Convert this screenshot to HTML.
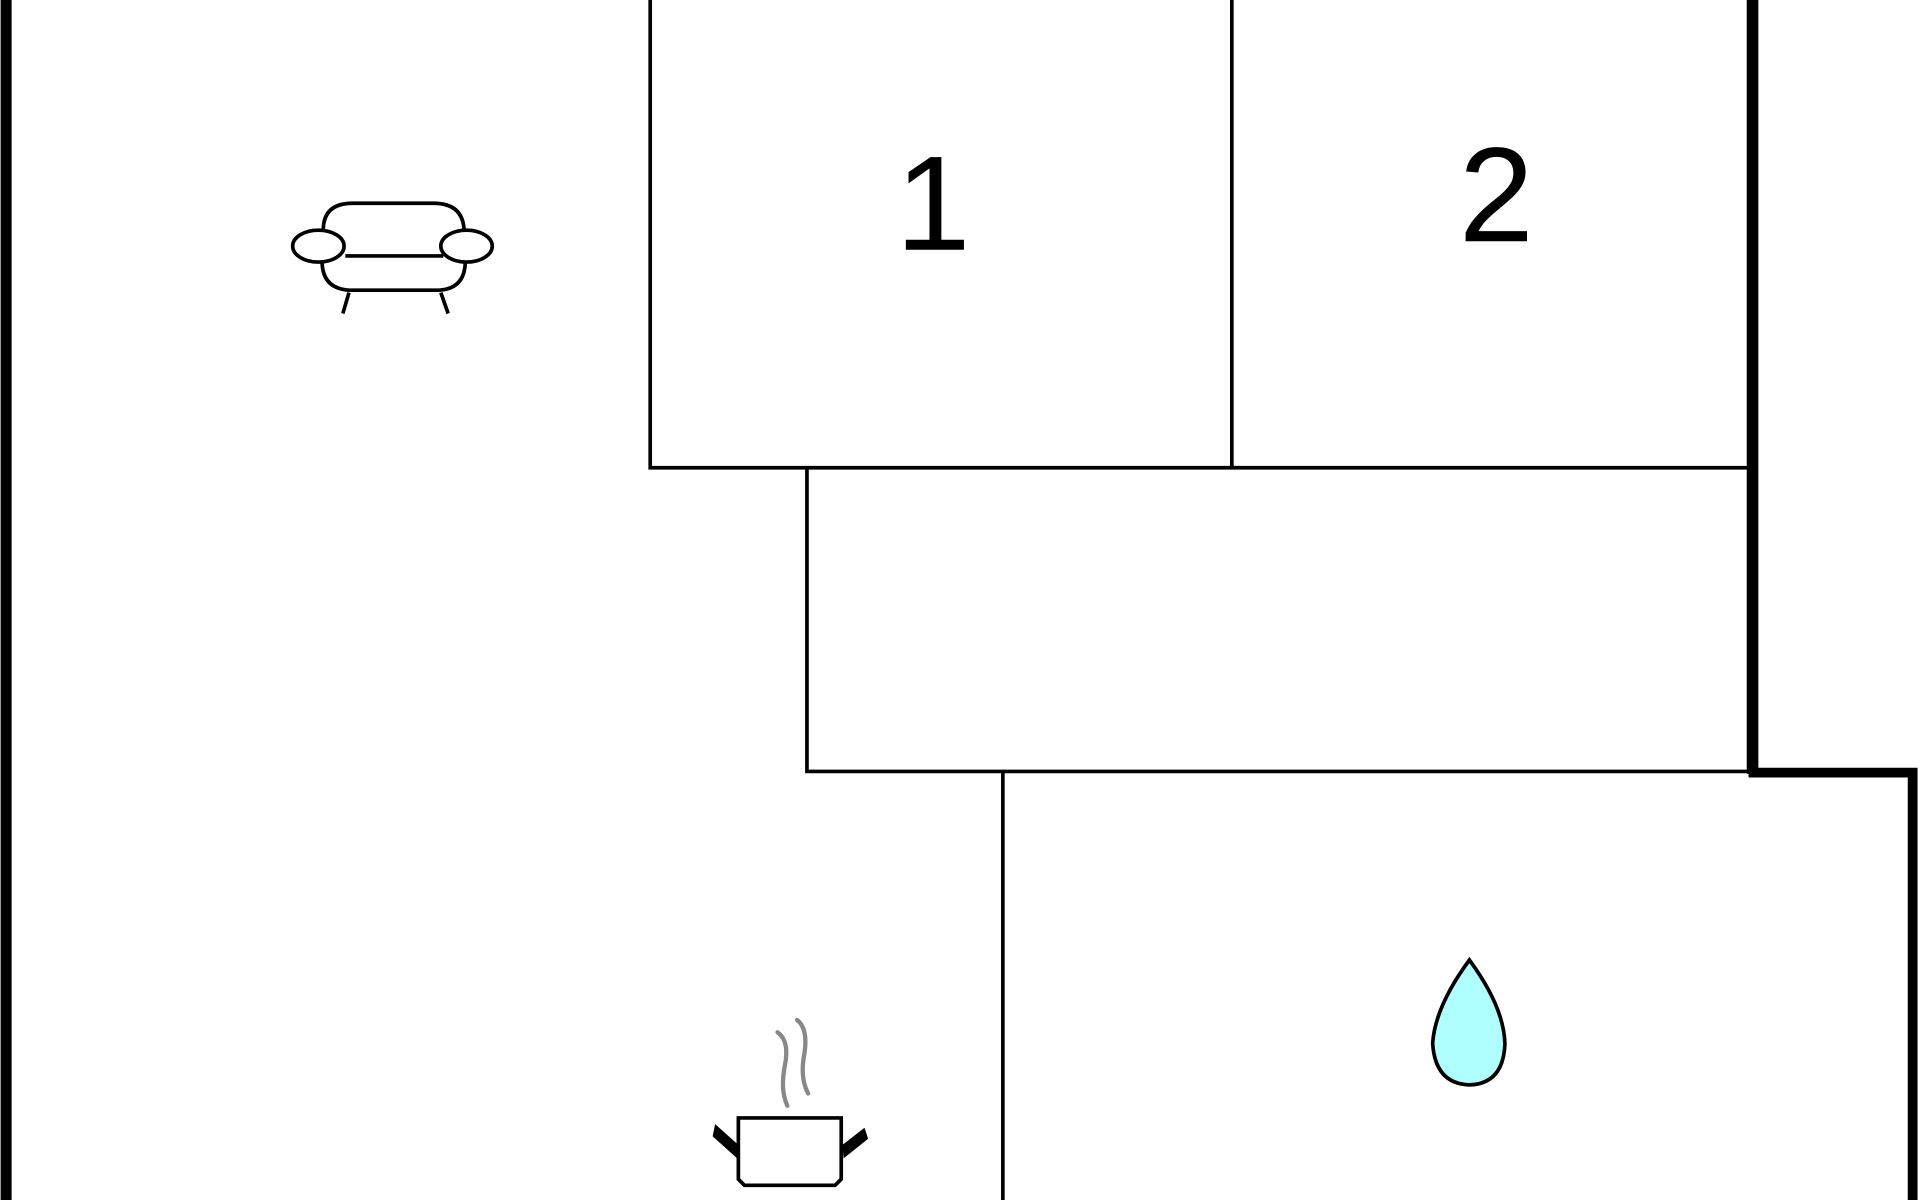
<!DOCTYPE html>
<html><head><style>html,body{margin:0;padding:0;background:#fff;}svg{display:block}</style></head>
<body>
<svg width="1920" height="1200" viewBox="0 0 1568 980" xmlns="http://www.w3.org/2000/svg">
<rect width="1568" height="980" fill="#fff"/>
<g stroke="#000" fill="none" stroke-width="3">
<line x1="5" y1="0" x2="5" y2="980" stroke-width="9"/>
<polyline points="531,0 531,382 1430,382"/>
<line x1="1006" y1="0" x2="1006" y2="382"/>
<line x1="1428" y1="0" x2="1428" y2="632"/>
<line x1="1432" y1="0" x2="1432" y2="632" stroke-width="8"/>
<polyline points="659,382 659,630 1430,630"/>
<line x1="819" y1="630" x2="819" y2="980"/>
<polyline points="1428,631 1562,631 1562,980" stroke-width="8"/>
</g>
<text x="762" y="204" font-family="Liberation Sans, sans-serif" font-size="110" text-anchor="middle">1</text>
<text x="1222" y="197" font-family="Liberation Sans, sans-serif" font-size="110" text-anchor="middle">2</text>
<!-- sofa -->
<g stroke="#000" stroke-width="3" fill="#fff">
<path d="M264,188 Q264,166 288,166 L354,166 Q378,166 379,188"/>
<path d="M263,213 Q263,237 288,237 L356,237 Q380,237 380,213"/>
<line x1="282" y1="209" x2="362" y2="209"/>
<ellipse cx="260" cy="201" rx="21" ry="13"/>
<ellipse cx="381" cy="201" rx="21" ry="13"/>
<line x1="285" y1="239" x2="280" y2="256"/>
<line x1="360" y1="239" x2="366" y2="256"/>
</g>
<!-- pot -->
<g>
<path d="M635,843 Q645,850 641,870 Q637,890 643,903" stroke="#888" stroke-width="3.5" fill="none" stroke-linecap="round"/>
<path d="M651,833 Q660,840 657,860 Q653,880 660,893" stroke="#888" stroke-width="3.5" fill="none" stroke-linecap="round"/>
<path d="M603,913 L687,913 L687,963 L682,968 L608,968 L603,963 Z" stroke="#000" stroke-width="3" fill="#fff"/>
<path d="M603,935 L584,918 L582,928 L602,946 Z" fill="#000"/>
<path d="M688,935 L706,921 L709,930 L689,946 Z" fill="#000"/>
</g>
<!-- drop -->
<path d="M1200,784 Q1228,822 1229,852 Q1228,885 1200,886 Q1172,885 1170,852 Q1172,822 1200,784 Z" fill="#b0ffff" stroke="#000" stroke-width="3"/>
</svg>
</body></html>
